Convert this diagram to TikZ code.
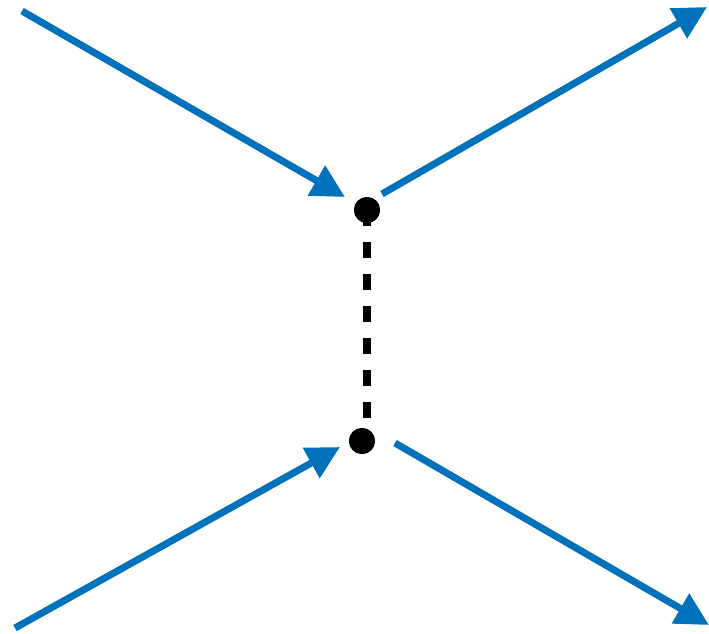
\documentclass[tikz,border=0pt]{standalone}
\usetikzlibrary{arrows.meta}

\definecolor{lineblue}{RGB}{0,114,187}

\begin{document}
\begin{tikzpicture}[x=1pt, y=-1pt,
    prop/.style={draw=lineblue, line width=7pt, -{Triangle[length=33pt,width=33pt]}},
    vtx/.style={circle, fill=black, inner sep=0pt, minimum size=26pt}]
  \useasboundingbox (0,0) rectangle (709,634);
  % vertices
  \node[vtx] (v1) at (367,210) {};
  \node[vtx] (v2) at (362,441) {};
  % free ends of the lines
  \coordinate (in1) at (22,11);
  \coordinate (in1e) at (345,197);
  \coordinate (out1s) at (382,194);
  \coordinate (out1) at (707,7);
  \coordinate (in2) at (15,628);
  \coordinate (in2e) at (340,447);
  \coordinate (out2s) at (395,443);
  \coordinate (out2) at (709,625);
  % exchange line
  \draw[line width=8pt, dash pattern=on 16pt off 16pt] (v1.center) -- (v1.center |- v2.center);
  \node[vtx] at (v1) {};
  \node[vtx] at (v2) {};
  % incoming and outgoing lines
  \draw[prop] (in1) -- (in1e);
  \draw[prop] (out1s) -- (out1);
  \draw[prop] (in2) -- (in2e);
  \draw[prop] (out2s) -- (out2);
\end{tikzpicture}
\end{document}
